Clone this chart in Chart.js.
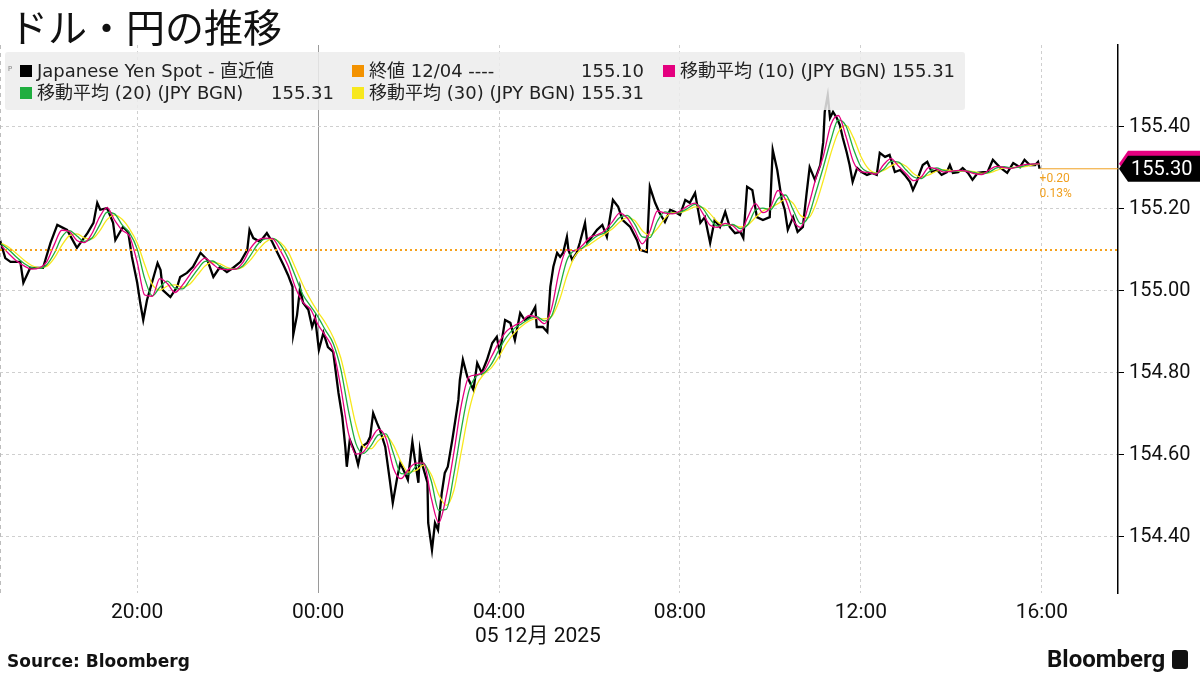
<!DOCTYPE html>
<html>
<head>
<meta charset="utf-8">
<script src="https://cdn.jsdelivr.net/npm/chart.js@4.4.1/dist/chart.umd.min.js"></script>
<style>
html, body { margin: 0; padding: 0; background: #fff; }
#wrap { position: relative; width: 1200px; height: 675px; overflow: hidden; font-family: "DejaVu Sans", "Noto Sans CJK JP", sans-serif; color: #111; }
#c { position: absolute; left: 0; top: 0; }
.title { position: absolute; left: 9px; top: 5px; font: 39px/40px "Noto Sans CJK JP", sans-serif; color: #111; white-space: nowrap; }
.legend { position: absolute; left: 5px; top: 52px; width: 960px; height: 58px; background: rgba(236,236,236,0.85); border-radius: 3px; }
.li { position: absolute; font-size: 18px; line-height: 21px; white-space: nowrap; color: #222; }
.sq { display: inline-block; width: 12px; height: 12px; margin-right: 5px; vertical-align: 0px; }
.val { position: absolute; font-size: 18px; line-height: 21px; text-align: right; color: #222; }
.pin { position: absolute; left: 3px; top: 11px; font-size: 11px; color: #777; }
.date { position: absolute; left: 475px; top: 623px; font-size: 21px; line-height: 24px; color: #111; white-space: nowrap; font-family: Roboto, "Noto Sans CJK JP", sans-serif; }
.source { position: absolute; left: 7px; top: 651px; font: bold 17px "DejaVu Sans", sans-serif; color: #111; }
.logo { position: absolute; left: 1047px; top: 645px; font: bold 24px Roboto, sans-serif; color: #111; }
.logo i { display: inline-block; width: 16px; height: 19px; background: #111; border-radius: 3px; margin-left: 7px; vertical-align: -2px; }
</style>
</head>
<body>
<div id="wrap">
  <canvas id="c" width="1200" height="675"></canvas>
  <div class="title">ドル・円の推移</div>
  <div class="legend">
    <div class="pin">ᵖ</div>
    <div class="li" style="left:15px;top:8px"><span class="sq" style="background:#000"></span>Japanese Yen Spot - 直近値</div>
    <div class="li" style="left:347px;top:8px"><span class="sq" style="background:#f39200"></span>終値 12/04 ----</div>
    <div class="val" style="left:530px;width:109px;top:8px">155.10</div>
    <div class="li" style="left:658px;top:8px"><span class="sq" style="background:#e4007f"></span>移動平均 (10) (JPY BGN) 155.31</div>
    <div class="li" style="left:15px;top:30px"><span class="sq" style="background:#1fae3f"></span>移動平均 (20) (JPY BGN)</div>
    <div class="val" style="left:220px;width:109px;top:30px">155.31</div>
    <div class="li" style="left:347px;top:30px"><span class="sq" style="background:#f7e81e"></span>移動平均 (30) (JPY BGN) 155.31</div>
  </div>
  <div class="date">05 12月 2025</div>
  <div class="source">Source: Bloomberg</div>
  <div class="logo">Bloomberg<i></i></div>
</div>
<script>
// minutes relative to 00:00 on 5 Dec (negative = 4 Dec)
const spotMinutes = [-422,-415,-408,-395,-391,-382,-365,-355,-346,-333,-320,-306,-298,-293,-289,-280,-272,-269,-259,-252,-247,-240,-236,-232,-227,-213,-209,-206,-196,-187,-183,-174,-166,-156,-147,-139,-130,-121,-113,-103,-94,-91,-86,-77,-68,-61,-54,-46,-40,-34,-33,-28,-24,-20,-13,-8,-4,1,7,13,20,27,32,36,38,42,49,53,58,65,69,73,78,82,89,95,99,105,109,115,119,125,129,133,135,139,145,146,151,155,159,164,168,172,178,182,186,188,192,198,206,211,217,224,231,237,241,248,255,261,268,274,281,288,290,298,304,308,312,317,321,325,330,332,337,343,347,354,357,363,370,377,383,391,398,404,414,423,427,436,440,447,453,460,467,473,480,487,493,500,507,513,520,526,533,540,546,553,560,564,569,576,582,590,599,603,609,615,619,623,630,636,643,648,652,659,666,670,672,676,679,683,688,692,696,701,705,709,715,721,728,735,741,745,752,758,765,772,778,785,789,794,798,802,808,814,821,827,834,838,842,849,855,862,868,875,882,888,895,904,914,922,931,937,944,951,955,957];
const spotPrices = [155.124,155.080,155.071,155.071,155.020,155.056,155.056,155.117,155.161,155.149,155.105,155.141,155.166,155.215,155.198,155.202,155.166,155.124,155.156,155.144,155.083,155.020,154.971,154.929,154.978,155.068,155.051,155.002,154.985,155.010,155.034,155.044,155.059,155.093,155.076,155.034,155.059,155.046,155.056,155.071,155.100,155.149,155.129,155.120,155.141,155.120,155.093,155.063,155.039,155.010,154.893,154.941,155.007,154.971,154.954,154.912,154.934,154.856,154.898,154.863,154.851,154.751,154.693,154.620,154.571,154.637,154.605,154.576,154.620,154.629,154.644,154.702,154.678,154.661,154.620,154.539,154.483,154.546,154.580,154.556,154.539,154.632,154.580,154.532,154.612,154.571,154.532,154.434,154.368,154.434,154.417,154.507,154.556,154.571,154.637,154.685,154.734,154.783,154.832,154.790,154.759,154.824,154.800,154.832,154.873,154.888,154.849,154.929,154.922,154.880,154.946,154.929,154.937,154.961,154.912,154.912,154.900,155.010,155.059,155.093,155.083,155.093,155.132,155.100,155.076,155.093,155.117,155.166,155.117,155.132,155.149,155.161,155.132,155.222,155.205,155.173,155.156,155.124,155.100,155.095,155.254,155.215,155.190,155.168,155.198,155.193,155.185,155.222,155.215,155.239,155.166,155.180,155.117,155.173,155.156,155.193,155.156,155.141,155.144,155.129,155.254,155.246,155.180,155.173,155.180,155.344,155.295,155.222,155.198,155.149,155.180,155.144,155.156,155.239,155.302,155.271,155.307,155.363,155.437,155.478,155.422,155.437,155.422,155.405,155.373,155.339,155.307,155.266,155.300,155.290,155.283,155.288,155.283,155.337,155.327,155.332,155.290,155.295,155.283,155.266,155.246,155.266,155.288,155.307,155.315,155.290,155.295,155.283,155.290,155.307,155.288,155.290,155.300,155.288,155.271,155.288,155.290,155.290,155.320,155.302,155.288,155.312,155.302,155.320,155.307,155.307,155.315,155.298];

const maMinutes = [-420,-410,-400,-390,-380,-370,-360,-350,-340,-330,-320,-310,-300,-290,-280,-270,-260,-250,-240,-230,-220,-210,-200,-190,-180,-170,-160,-150,-140,-130,-120,-110,-100,-90,-80,-70,-60,-50,-40,-30,-20,-10,0,10,20,30,40,50,60,70,80,90,100,110,120,130,140,150,160,170,180,190,200,210,220,230,240,250,260,270,280,290,300,310,320,330,340,350,360,370,380,390,400,410,420,430,440,450,460,470,480,490,500,510,520,530,540,550,560,570,580,590,600,610,620,630,640,650,660,670,680,690,700,710,720,730,740,750,760,770,780,790,800,810,820,830,840,850,860,870,880,890,900,910,920,930,940,950,957];
const ma10 = [155.110,155.090,155.073,155.061,155.053,155.056,155.071,155.113,155.148,155.145,155.123,155.118,155.140,155.180,155.203,155.173,155.148,155.133,155.070,154.990,154.987,155.030,155.018,154.996,155.014,155.040,155.064,155.080,155.066,155.053,155.052,155.053,155.069,155.103,155.124,155.129,155.127,155.098,155.062,155.008,154.972,154.955,154.917,154.890,154.855,154.765,154.655,154.602,154.607,154.637,154.662,154.640,154.567,154.542,154.565,154.580,154.580,154.495,154.435,154.500,154.605,154.722,154.790,154.795,154.805,154.840,154.875,154.902,154.915,154.925,154.940,154.935,154.920,154.960,155.050,155.100,155.098,155.110,155.130,155.137,155.147,155.168,155.190,155.178,155.148,155.115,155.145,155.195,155.190,155.188,155.195,155.207,155.214,155.190,155.160,155.155,155.165,155.159,155.144,155.180,155.213,155.191,155.204,155.245,155.223,155.173,155.155,155.205,155.273,155.328,155.405,155.428,155.378,155.315,155.291,155.289,155.285,155.308,155.323,155.304,155.286,155.269,155.278,155.301,155.298,155.290,155.292,155.294,155.292,155.286,155.284,155.295,155.304,155.301,155.299,155.305,155.309,155.310,155.310];
const ma20 = [155.114,155.100,155.082,155.067,155.057,155.055,155.064,155.092,155.131,155.147,155.134,155.121,155.129,155.160,155.192,155.188,155.161,155.141,155.102,155.030,154.988,155.009,155.024,155.007,155.005,155.027,155.052,155.072,155.073,155.060,155.053,155.053,155.061,155.086,155.114,155.127,155.128,155.113,155.080,155.035,154.990,154.963,154.936,154.903,154.872,154.810,154.710,154.628,154.604,154.622,154.649,154.651,154.603,154.554,154.553,154.572,154.580,154.537,154.465,154.467,154.552,154.663,154.756,154.792,154.800,154.822,154.857,154.888,154.908,154.920,154.932,154.937,154.927,154.940,155.005,155.075,155.099,155.104,155.120,155.134,155.142,155.158,155.179,155.184,155.163,155.132,155.130,155.170,155.193,155.189,155.192,155.201,155.211,155.202,155.175,155.158,155.160,155.162,155.152,155.162,155.197,155.202,155.198,155.225,155.234,155.198,155.164,155.180,155.239,155.301,155.367,155.417,155.403,155.347,155.303,155.290,155.287,155.297,155.316,155.314,155.295,155.278,155.274,155.290,155.300,155.294,155.291,155.293,155.293,155.289,155.285,155.290,155.300,155.303,155.300,155.302,155.307,155.310,155.310];
const ma30 = [155.116,155.106,155.091,155.075,155.062,155.057,155.060,155.080,155.111,155.135,155.139,155.129,155.127,155.146,155.174,155.185,155.175,155.151,155.117,155.064,155.016,155.002,155.012,155.015,155.009,155.017,155.039,155.061,155.070,155.066,155.057,155.053,155.058,155.075,155.099,155.119,155.127,155.118,155.096,155.056,155.014,154.978,154.948,154.921,154.887,154.837,154.758,154.674,154.621,154.615,154.635,154.646,154.623,154.583,154.558,154.562,154.575,154.552,154.503,154.477,154.513,154.609,154.706,154.769,154.797,154.813,154.840,154.872,154.897,154.914,154.927,154.933,154.932,154.938,154.977,155.037,155.083,155.103,155.113,155.126,155.138,155.151,155.168,155.179,155.172,155.147,155.136,155.152,155.177,155.191,155.191,155.197,155.205,155.204,155.188,155.168,155.160,155.160,155.156,155.161,155.179,155.195,155.203,155.213,155.224,155.214,155.184,155.178,155.211,155.269,155.335,155.387,155.404,155.374,155.328,155.298,155.288,155.294,155.305,155.312,155.304,155.286,155.278,155.283,155.292,155.296,155.293,155.292,155.293,155.291,155.287,155.288,155.294,155.300,155.301,155.302,155.304,155.308,155.310];

const prevClose = 155.10;
const xTickMinutes = [-240, 0, 240, 480, 720, 960];
const xTickLabels = ['20:00', '00:00', '04:00', '08:00', '12:00', '16:00'];
const yTickValues = [154.40, 154.60, 154.80, 155.00, 155.20, 155.40];
const xMin = -422, xMax = 1061;
const yMin = 154.263, yMax = 155.60;

function pts(xs, ys) {
    return xs.map(function (x, i) { return { x: x, y: ys[i] }; });
}

// last value tag on the right axis, plus change vs previous close
const lastTag = {
    id: 'lastTag',
    afterDraw: function (chart) {
        const ctx = chart.ctx, area = chart.chartArea;
        const sx = chart.scales.x, sy = chart.scales.y;
        const n = spotPrices.length - 1;
        const last = spotPrices[n];
        const xl = sx.getPixelForValue(spotMinutes[n]);
        const yl = sy.getPixelForValue(last);
        const ym = sy.getPixelForValue(ma10[ma10.length - 1]);
        ctx.save();
        // dashed left border of the plot
        ctx.strokeStyle = '#bdbdbd';
        ctx.setLineDash([4, 4]);
        ctx.beginPath();
        ctx.moveTo(area.left + 0.5, area.top);
        ctx.lineTo(area.left + 0.5, area.bottom);
        ctx.stroke();
        ctx.setLineDash([]);
        ctx.strokeStyle = '#f0a020';
        ctx.lineWidth = 1;
        ctx.beginPath();
        ctx.moveTo(xl, yl);
        ctx.lineTo(area.right, yl);
        ctx.stroke();
        function tag(y, color) {
            ctx.fillStyle = color;
            ctx.beginPath();
            ctx.moveTo(area.right + 1, y);
            ctx.lineTo(area.right + 10, y - 13);
            ctx.lineTo(1200, y - 13);
            ctx.lineTo(1200, y + 13);
            ctx.lineTo(area.right + 10, y + 13);
            ctx.closePath();
            ctx.fill();
        }
        tag(ym, '#e4007f');
        tag(yl, '#000');
        ctx.fillStyle = '#fff';
        ctx.font = '20px Roboto';
        ctx.textBaseline = 'middle';
        ctx.fillText(last.toFixed(2), area.right + 13, yl + 1);
        const diff = last - prevClose;
        ctx.fillStyle = '#f0a020';
        ctx.font = '12px Roboto';
        ctx.fillText((diff >= 0 ? '+' : '') + diff.toFixed(2), xl, yl + 10);
        ctx.fillText((diff / prevClose * 100).toFixed(2) + '%', xl, yl + 25);
        ctx.restore();
    }
};

var ctx = document.getElementById('c').getContext('2d');
var myChart = new Chart(ctx, {
    type: 'line',
    data: {
        datasets: [{
            label: '終値 12/04',
            data: [{ x: xMin, y: prevClose }, { x: xMax, y: prevClose }],
            borderColor: '#f5a01a',
            borderWidth: 2,
            borderDash: [2, 3],
            pointRadius: 0,
            order: 0
        }, {
            label: '移動平均 (10)',
            data: pts(maMinutes, ma10),
            borderColor: '#e4007f',
            borderWidth: 1.3,
            pointRadius: 0,
            cubicInterpolationMode: 'monotone',
            order: 1
        }, {
            label: '移動平均 (20)',
            data: pts(maMinutes, ma20),
            borderColor: '#1fae3f',
            borderWidth: 1.3,
            pointRadius: 0,
            cubicInterpolationMode: 'monotone',
            order: 2
        }, {
            label: '移動平均 (30)',
            data: pts(maMinutes, ma30),
            borderColor: '#f7e81e',
            borderWidth: 1.3,
            pointRadius: 0,
            cubicInterpolationMode: 'monotone',
            order: 3
        }, {
            label: 'Japanese Yen Spot',
            data: pts(spotMinutes, spotPrices),
            borderColor: '#000',
            borderWidth: 2.3,
            pointRadius: 0,
            tension: 0,
            order: 4
        }]
    },
    options: {
        responsive: false,
        animation: false,
        layout: { padding: { top: 45, left: 0, right: 0, bottom: 0 } },
        plugins: { legend: { display: false }, tooltip: { enabled: false } },
        scales: {
            x: {
                type: 'linear',
                min: xMin,
                max: xMax,
                afterBuildTicks: function (s) { s.ticks = xTickMinutes.map(function (v) { return { value: v }; }); },
                afterFit: function (s) { s.height = 82; },
                ticks: {
                    autoSkip: false,
                    maxRotation: 0,
                    padding: 7,
                    color: '#111',
                    font: { family: 'Roboto', size: 21 },
                    callback: function (v) { return xTickLabels[xTickMinutes.indexOf(v)]; }
                },
                grid: {
                    drawTicks: false,
                    color: function (c) { return (c.tick && c.tick.value === 0) ? '#9a9a9a' : '#cfcfcf'; }
                },
                border: {
                    display: false,
                    dash: function (c) { return (c.tick && c.tick.value === 0) ? [] : [3, 3]; }
                }
            },
            y: {
                position: 'right',
                min: yMin,
                max: yMax,
                afterBuildTicks: function (s) { s.ticks = yTickValues.map(function (v) { return { value: v }; }); },
                afterFit: function (s) { s.width = 82; },
                ticks: {
                    padding: 5,
                    color: '#111',
                    font: { family: 'Roboto', size: 20 },
                    callback: function (v) { return v.toFixed(2); }
                },
                grid: {
                    color: '#cfcfcf',
                    tickColor: '#000',
                    tickLength: 6,
                    tickBorderDash: []
                },
                border: { display: true, color: '#000', width: 1.5, dash: [3, 3] }
            }
        }
    },
    plugins: [lastTag]
});
</script>
</body>
</html>
